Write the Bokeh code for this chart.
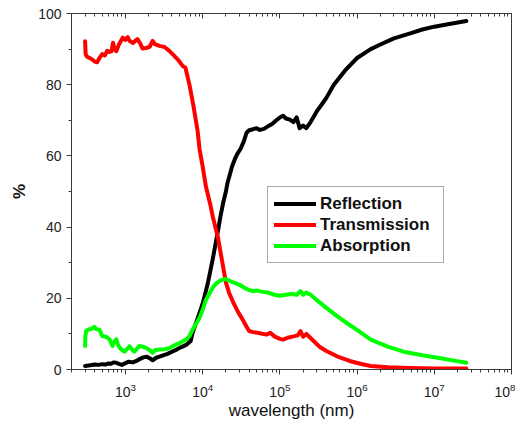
from bokeh.plotting import figure
from bokeh.models import LogAxis, Legend, LegendItem, LogTicker, SingleIntervalTicker
from bokeh.embed import file_html
from bokeh.resources import INLINE

# ---- data (wavelength in nm, values in %) ----
refl_wl = [300, 350, 400, 450, 500, 550, 600, 650, 700, 760, 820, 900, 1000, 1100, 1250,
           1390, 1550, 1700, 1870, 2050, 2250, 2500, 2750, 3000, 3500, 4000, 4600, 5300,
           6200, 7000, 7400, 8500, 10000, 11600, 13500, 15800, 17000, 18500, 20000, 21000,
           22000, 24000, 26000, 28000, 31000, 34000, 37000, 40000, 45000, 50000, 55000,
           62000, 70000, 80000, 90000, 100000, 110000, 120000, 135000, 150000, 165000,
           180000, 200000, 220000, 250000, 300000, 350000, 400000, 500000, 700000, 1e6,
           1.5e6, 2e6, 3e6, 5e6, 7e6, 1e7, 1.5e7, 2.6e7]
refl = [1.0, 1.2, 1.4, 1.3, 1.5, 1.4, 1.7, 1.6, 2.0, 1.9, 1.6, 1.3, 1.8, 2.2, 2.0,
        2.4, 3.0, 3.4, 3.6, 3.2, 2.6, 3.3, 3.6, 3.9, 4.4, 5.0, 5.6, 6.3,
        7.0, 8.0, 10.3, 14.0, 18.5, 24.0, 31.0, 39.0, 43.0, 47.0, 50.0, 52.5,
        54.0, 57.0, 59.0, 60.5, 62.0, 64.0, 66.5, 67.2, 67.5, 67.8, 67.3,
        67.6, 68.3, 69.0, 70.0, 70.8, 71.3, 70.5, 70.2, 69.5, 70.8,
        67.8, 68.5, 67.8, 69.5, 72.5, 74.5, 76.3, 80.0, 84.0, 87.5,
        90.0, 91.3, 93.0, 94.5, 95.5, 96.3, 97.0, 97.9]

trans_wl = [300, 305, 320, 360, 400, 430, 460, 500, 540, 580, 620, 660, 690, 720, 760,
            820, 880, 920, 1000, 1070, 1130, 1250, 1350, 1430, 1560, 1660, 1850, 2050,
            2250, 2400, 2760, 3200, 3700, 4200, 4800, 5500, 6000, 6800, 7600, 8600, 9100,
            10000, 11000, 12500, 13500, 15800, 18000, 20000, 22000, 25000, 29000, 33000,
            37000, 40000, 45000, 55000, 67000, 75000, 85000, 100000, 110000, 130000,
            150000, 170000, 185000, 200000, 220000, 240000, 280000, 330000, 400000,
            550000, 800000, 1.1e6, 1.5e6, 2.5e6, 5e6, 1e7, 2.6e7]
trans = [92.2, 88.5, 87.8, 87.3, 86.5, 86.3, 87.5, 88.6, 88.2, 89.5, 89.2, 89.4, 91.8, 90.0, 89.4,
         91.2, 92.4, 93.2, 92.6, 93.4, 92.3, 91.7, 92.4, 92.8, 91.5, 90.2, 90.3, 90.6,
         92.3, 91.4, 90.9, 90.6, 89.5, 88.3, 87.0, 85.3, 84.7, 79.6, 74.0, 67.0, 62.0,
         57.0, 51.5, 46.5, 43.0, 37.0, 30.0, 24.4, 21.5, 18.8, 16.0, 14.0,
         12.0, 10.8, 10.5, 10.2, 9.8, 10.3, 9.3, 8.6, 8.4, 9.0,
         9.3, 9.6, 10.8, 9.2, 10.0, 9.2, 7.8, 6.3, 5.2,
         3.7, 2.4, 1.6, 1.0, 0.6, 0.4, 0.3, 0.3]

abs_wl = [300, 303, 310, 340, 370, 395, 420, 460, 500, 560, 620, 680, 720, 760, 800,
          840, 900, 970, 1050, 1130, 1220, 1300, 1400, 1520, 1700, 1870, 2050, 2250,
          2450, 2760, 3200, 3700, 4300, 5000, 5600, 6200, 6800, 7400, 8300, 9100, 10000,
          11000, 12000, 13500, 15000, 17000, 19000, 21000, 23000, 26000, 30000, 35000,
          40000, 45000, 50000, 60000, 70000, 85000, 100000, 120000, 140000, 165000,
          185000, 200000, 220000, 250000, 300000, 400000, 550000, 800000, 1.1e6, 1.5e6,
          2.5e6, 4e6, 7e6, 1.1e7, 1.8e7, 2.6e7]
absorp = [6.6, 9.5, 10.8, 11.3, 11.5, 12.0, 11.3, 11.2, 9.4, 9.2, 8.5, 6.6, 7.8, 8.5, 7.0,
          6.1, 5.5, 5.0, 5.8, 6.5, 5.6, 5.0, 5.8, 6.6, 6.4, 6.0, 5.5, 4.7,
          5.5, 5.6, 5.7, 6.0, 6.8, 7.4, 8.0, 8.5, 9.5, 11.2, 13.0, 14.5, 16.8,
          19.5, 21.0, 23.0, 24.2, 25.0, 25.4, 25.2, 24.8, 24.3, 23.8, 22.9,
          22.3, 22.0, 22.2, 21.8, 21.6, 21.0, 20.7, 21.0, 21.2, 21.0,
          22.0, 21.0, 21.6, 21.0, 19.5, 17.3, 15.0, 12.5, 10.5, 8.4,
          6.4, 5.0, 4.0, 3.3, 2.5, 1.9]

series_names = ["Reflection", "Transmission", "Absorption"]
series_colors = ["#000000", "#ff0000", "#00ff00"]

FONT = "Liberation Sans"
AX = "#3a3a3a"

p = figure(frame_width=440, frame_height=356, x_axis_type="log",
           x_range=(200, 1e8), y_range=(0, 100),
           output_backend="svg", toolbar_location=None,
           min_border_left=71, min_border_right=4, min_border_top=13, min_border_bottom=47)
p.grid.visible = False
p.background_fill_color = "white"
p.outline_line_color = AX
p.outline_line_width = 1

rends = []
for wl, vals, col in [(refl_wl, refl, series_colors[0]),
                      (trans_wl, trans, series_colors[1]),
                      (abs_wl, absorp, series_colors[2])]:
    r = p.line(wl, vals, line_color=col, line_width=4, line_join="round", line_cap="round")
    rends.append(r)

# bottom axis
xa = p.xaxis[0]
xa.ticker = LogTicker(num_minor_ticks=10)
xa.axis_label = "wavelength (nm)"
xa.axis_label_text_font = FONT
xa.axis_label_text_font_style = "normal"
xa.axis_label_text_font_size = "17px"
xa.axis_label_text_color = "#111"
xa.axis_label_standoff = 1
xa.major_label_text_font = FONT
xa.major_label_text_font_size = "14px"
xa.major_label_text_color = "#222"
xa.major_label_standoff = 8
xa.major_tick_out = 5
xa.major_tick_in = 0
xa.minor_tick_out = 3
xa.minor_tick_in = 0
xa.axis_line_color = AX
xa.major_tick_line_color = AX
xa.minor_tick_line_color = AX

# left axis
ya = p.yaxis[0]
ya.ticker = SingleIntervalTicker(interval=20, num_minor_ticks=2)
ya.axis_label = "%"
ya.axis_label_text_font = FONT
ya.axis_label_text_font_style = "bold"
ya.axis_label_text_font_size = "17px"
ya.axis_label_text_color = "#111"
ya.axis_label_standoff = 6
ya.major_label_text_font = FONT
ya.major_label_text_font_size = "14px"
ya.major_label_text_color = "#222"
ya.major_label_standoff = 5
ya.major_tick_out = 5
ya.major_tick_in = 0
ya.minor_tick_out = 3
ya.minor_tick_in = 0
ya.axis_line_color = AX
ya.major_tick_line_color = AX
ya.minor_tick_line_color = AX

# top axis: ticks inward, labels invisible
ta = LogAxis(ticker=LogTicker(num_minor_ticks=10))
ta.major_label_text_font_size = "1px"
ta.major_label_text_alpha = 0
ta.major_label_standoff = 0
ta.major_tick_in = 5
ta.major_tick_out = 0
ta.minor_tick_in = 3
ta.minor_tick_out = 0
ta.axis_line_color = AX
ta.major_tick_line_color = AX
ta.minor_tick_line_color = AX
p.add_layout(ta, "above")

legend = Legend(items=[LegendItem(label=n, renderers=[r]) for n, r in zip(series_names, rends)],
                location=(196, 106))
legend.margin = 0
legend.padding = 6
legend.spacing = 0
legend.glyph_width = 42
legend.glyph_height = 21
legend.label_height = 21
legend.label_width = 117
legend.label_standoff = 4
legend.label_text_font = FONT
legend.label_text_font_style = "bold"
legend.label_text_font_size = "17px"
legend.label_text_color = "#111"
legend.border_line_color = "#555"
legend.border_line_width = 1
legend.background_fill_color = "white"
legend.background_fill_alpha = 1
p.add_layout(legend)

open("out.html", "w").write(file_html(p, INLINE))
